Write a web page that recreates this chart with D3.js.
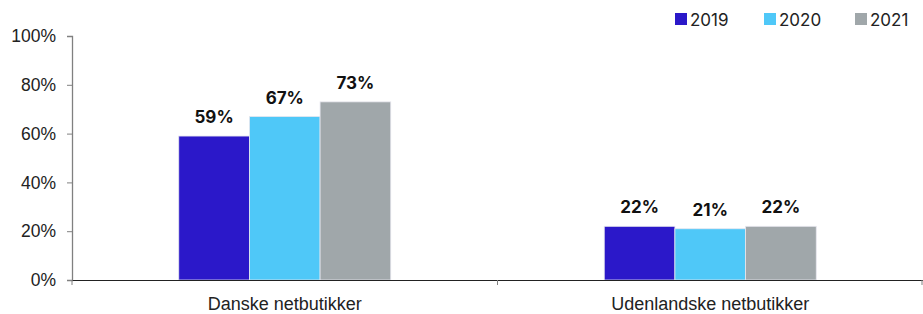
<!DOCTYPE html>
<html>
<head>
<meta charset="utf-8">
<script src="https://cdn.jsdelivr.net/npm/d3@7"></script>
<style>
  body { margin: 0; background: #fff; }
  svg { font-family: "Inter", "Liberation Sans", sans-serif; }
</style>
</head>
<body>
<script>
var categories = ["Danske netbutikker", "Udenlandske netbutikker"];
var years = ["2019", "2020", "2021"];
var values2019 = [59, 22];
var values2020 = [67, 21];
var values2021 = [73, 22];
var yTicks = [0, 20, 40, 60, 80, 100];
var colors = ["#2b18c9", "#4fc8f8", "#a0a7aa"];

var seriesValues = [values2019, values2020, values2021];

var width = 923, height = 314;
var margin = {top: 36, right: 0, bottom: 34, left: 72};

var svg = d3.select("body").append("svg")
            .attr("width", width)
            .attr("height", height);

var x = d3.scaleBand().domain(categories).range([margin.left, width - margin.right]).paddingInner(0).paddingOuter(0);
var xInner = d3.scaleBand().domain(years).range([0, 212]);
var y = d3.scaleLinear().domain([0, 100]).range([height - margin.bottom, margin.top]);

// y axis
var yAxis = svg.append("g")
               .attr("transform", "translate(" + margin.left + ",0)")
               .call(d3.axisLeft(y).tickValues(yTicks).tickSize(5).tickFormat(function (d) { return d + "%"; }));
yAxis.select(".domain").attr("stroke", "#808080").attr("stroke-width", 1.3);
yAxis.selectAll(".tick line").attr("stroke", "#808080");
yAxis.selectAll(".tick text").attr("font-size", 17.5).attr("fill", "#222").attr("x", -16);

// bars
var groups = svg.append("g").selectAll("g")
                .data(categories)
                .enter().append("g")
                .attr("transform", function (d) {
                    return "translate(" + (x(d) + (x.bandwidth() - 212) / 2) + ",0)";
                });

groups.selectAll("rect")
      .data(function (d, i) {
          return years.map(function (yr, j) { return {year: yr, value: seriesValues[j][i], k: j}; });
      })
      .enter().append("rect")
      .attr("x", function (d) { return xInner(d.year); })
      .attr("y", function (d) { return y(d.value); })
      .attr("width", xInner.bandwidth())
      .attr("height", function (d) { return y(0) - y(d.value); })
      .attr("fill", function (d) { return colors[d.k]; })
      .attr("stroke", "#e6e6ee")
      .attr("stroke-width", 0.8);

groups.selectAll("text")
      .data(function (d, i) {
          return years.map(function (yr, j) { return {year: yr, value: seriesValues[j][i]}; });
      })
      .enter().append("text")
      .attr("x", function (d) { return xInner(d.year) + xInner.bandwidth() / 2; })
      .attr("y", function (d) { return y(d.value) - 13; })
      .attr("text-anchor", "middle")
      .attr("font-size", 17)
      .attr("font-weight", "bold")
      .attr("fill", "#111")
      .text(function (d) { return d.value + "%"; });

// x axis
var xAxis = svg.append("g")
               .attr("transform", "translate(0," + y(0) + ")")
               .call(d3.axisBottom(x).tickSize(0).tickSizeOuter(0));
xAxis.select(".domain").attr("stroke", "#222").attr("stroke-width", 1.2);
xAxis.selectAll(".tick text").attr("font-size", 18).attr("fill", "#222").attr("y", 17).attr("dy", "0.71em");

var xTickPos = [margin.left, x(categories[1]), width - 1];
svg.append("g").selectAll("line")
   .data(xTickPos)
   .enter().append("line")
   .attr("x1", function (d) { return d; })
   .attr("x2", function (d) { return d; })
   .attr("y1", y(0))
   .attr("y2", y(0) + 5)
   .attr("stroke", "#808080");

// legend
var legendX = [675, 764, 855];
var legend = svg.append("g").selectAll("g")
                .data(years)
                .enter().append("g")
                .attr("transform", function (d, i) { return "translate(" + legendX[i] + ",13)"; });
legend.append("rect")
      .attr("width", 12)
      .attr("height", 12)
      .attr("fill", function (d, i) { return colors[i]; });
legend.append("text")
      .attr("x", 15)
      .attr("y", 12.5)
      .attr("font-size", 17)
      .attr("fill", "#222")
      .text(function (d) { return d; });
</script>
</body>
</html>
